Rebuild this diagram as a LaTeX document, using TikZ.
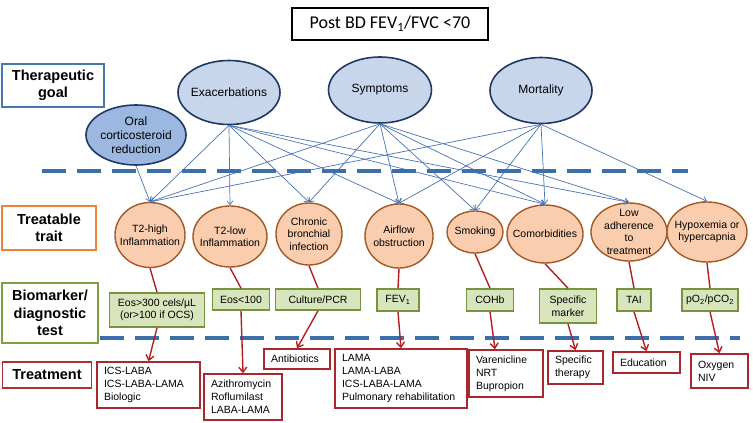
\documentclass[tikz,border=0pt]{standalone}
\usepackage{fontspec}
\setmainfont{Liberation Sans}
\newfontfamily\titlefont{Carlito}
\usetikzlibrary{shapes.geometric, arrows.meta}

\definecolor{goalfill}{RGB}{200,214,236}
\definecolor{oralfill}{RGB}{157,184,224}
\definecolor{goaldraw}{RGB}{32,56,100}
\definecolor{traitfill}{RGB}{250,205,175}
\definecolor{traitdraw}{RGB}{160,90,40}
\definecolor{markerfill}{RGB}{216,228,188}
\definecolor{markerdraw}{RGB}{119,147,60}
\definecolor{treatred}{RGB}{170,40,45}
\definecolor{linkred}{RGB}{180,30,35}
\definecolor{arrowblue}{RGB}{70,115,180}
\definecolor{dashblue}{RGB}{60,110,170}
\definecolor{labblue}{RGB}{70,120,180}
\definecolor{laborange}{RGB}{240,130,60}
\definecolor{labgreen}{RGB}{125,160,65}
\definecolor{labred}{RGB}{180,45,50}

\tikzset{
  goal/.style={ellipse, draw=goaldraw, line width=1.6pt, fill=goalfill,
    inner sep=-6pt, align=center, font=\fontsize{12}{14}\selectfont},
  trait/.style={ellipse, draw=traitdraw, line width=1.4pt, fill=traitfill,
    inner sep=-10pt, align=center, font=\fontsize{10.5}{12.5}\selectfont},
  marker/.style={rectangle, draw=markerdraw, line width=1.6pt, fill=markerfill,
    inner sep=0pt, align=center, font=\fontsize{10.5}{12.5}\selectfont},
  treat/.style={rectangle, draw=treatred, line width=1.5pt, fill=white,
    align=left, inner xsep=7pt, inner ysep=2pt, font=\fontsize{10.5}{13}\selectfont},
  rowlabel/.style={rectangle, line width=1.6pt, fill=white, inner sep=0pt,
    align=center, font=\bfseries\fontsize{14.5}{17.5}\selectfont},
  titlebox/.style={rectangle, draw=black, line width=1.8pt, inner sep=0pt,
    font=\titlefont\fontsize{18}{20}\selectfont},
  goalarrow/.style={draw=arrowblue, line width=0.7pt, -{Straight Barb[length=4pt,width=6pt]}},
  traitlink/.style={draw=linkred, line width=1.4pt},
  treatarrow/.style={traitlink, -{Straight Barb[length=5pt,width=8pt]}},
  divider/.style={draw=dashblue, line width=3.5pt, dash pattern=on 24pt off 11pt},
}

\begin{document}
\begin{tikzpicture}[x=1pt,y=-1pt]
\useasboundingbox (0,0) rectangle (753,423);

% title
\node[titlebox, minimum width=196pt, minimum height=32pt] (title) at (390,24) {Post BD FEV\textsubscript{1}/FVC <70};

% row labels
\node[rowlabel, draw=labblue, minimum width=102pt, minimum height=43pt] (lgoal) at (53,85.5) {Therapeutic\\goal};
\node[rowlabel, draw=laborange, minimum width=94pt, minimum height=44pt] (ltrait) at (49,228) {Treatable\\trait};
\node[rowlabel, draw=labgreen, minimum width=96pt, minimum height=60pt] (lmarker) at (50,313) {Biomarker/\\diagnostic\\test};
\node[rowlabel, draw=labred, minimum width=89pt, minimum height=26pt] (ltreat) at (47,375) {Treatment};

% therapeutic goals
\node[goal, fill=oralfill, minimum width=100pt, minimum height=60pt] (oral) at (136,135) {Oral\\corticosteroid\\reduction};
\node[goal, minimum width=102pt, minimum height=64pt] (exac) at (229,92.5) {Exacerbations};
\node[goal, minimum width=103pt, minimum height=66pt] (symp) at (380,90) {Symptoms};
\node[goal, minimum width=102pt, minimum height=66pt] (mort) at (541,90.5) {Mortality};

% treatable traits
\node[trait, minimum width=70pt, minimum height=65pt] (t2high) at (150,235) {T2-high\\Inflammation};
\node[trait, minimum width=74pt, minimum height=61pt] (t2low) at (230,236.5) {T2-low\\Inflammation};
\node[trait, minimum width=66pt, minimum height=62pt] (chronic) at (309,234) {Chronic\\bronchial\\infection};
\node[trait, minimum width=68pt, minimum height=64pt] (airflow) at (399,236) {Airflow\\obstruction};
\node[trait, minimum width=56pt, minimum height=42pt] (smoking) at (475,232) {Smoking};
\node[trait, minimum width=76pt, minimum height=58pt] (comorb) at (545,234) {Comorbidities};
\node[trait, minimum width=76pt, minimum height=58pt] (lowadh) at (629,232) {Low\\adherence\\to\\treatment};
\node[trait, minimum width=80pt, minimum height=60pt] (hypox) at (707,232) {Hypoxemia or\\hypercapnia};

% biomarkers
\node[marker, minimum width=95pt, minimum height=34pt] (eoshigh) at (157,310) {Eos>300 cels/µL\\(or>100 if OCS)};
\node[marker, minimum width=57pt, minimum height=21pt] (eoslow) at (241,299.5) {Eos<100};
\node[marker, minimum width=85pt, minimum height=21pt] (culture) at (318,299.5) {Culture/PCR};
\node[marker, minimum width=42pt, minimum height=22pt] (fev) at (398,300) {FEV\textsubscript{1}};
\node[marker, minimum width=47pt, minimum height=22pt] (cohb) at (490,300) {COHb};
\node[marker, minimum width=57pt, minimum height=34pt] (specmark) at (568,306) {Specific\\marker};
\node[marker, minimum width=34pt, minimum height=22pt] (tai) at (634,300) {TAI};
\node[marker, minimum width=56pt, minimum height=22pt] (gases) at (710,300) {pO\textsubscript{2}/pCO\textsubscript{2}};

% treatments
\node[treat, text width=89pt, minimum height=46pt] (ics) at (148.5,385) {ICS-LABA\\ICS-LABA-LAMA\\Biologic};
\node[treat, text width=64pt, minimum height=46pt] (azi) at (243,397) {Azithromycin\\Roflumilast\\LABA-LAMA};
\node[treat, text width=52pt, minimum height=20pt] (abx) at (297,359) {Antibiotics};
\node[treat, text width=118pt, minimum height=59pt] (lama) at (401,378.5) {LAMA\\LAMA-LABA\\ICS-LABA-LAMA\\Pulmonary rehabilitation};
\node[treat, text width=60pt, minimum height=47pt] (varen) at (506,373.5) {Varenicline\\NRT\\Bupropion};
\node[treat, text width=41pt, minimum height=33pt] (specther) at (575.5,367.5) {Specific\\therapy};
\node[treat, text width=53pt, minimum height=21pt] (edu) at (646.5,362.5) {Education};
\node[treat, text width=43pt, minimum height=34pt] (oxy) at (719.5,371) {Oxygen\\NIV};

% dividers
\coordinate (div1l) at (42,171);
\coordinate (div1r) at (688,171);
\coordinate (div2l) at (100,338);
\coordinate (div2r) at (740,338);
\draw[divider] (div1l) -- (div1r);
\draw[divider] (div2l) -- (div2r);

% goals to traits
\draw[goalarrow] (oral.south) -- (t2high.north);
\draw[goalarrow] (exac.south) -- (t2high.north);
\draw[goalarrow] (exac.south) -- (t2low.north);
\draw[goalarrow] (exac.south) -- (chronic.north);
\draw[goalarrow] (exac.south) -- (airflow.north);
\draw[goalarrow] (exac.south) -- (comorb.north);
\draw[goalarrow] (exac.south) -- (lowadh.north);
\draw[goalarrow] (symp.south) -- (t2high.north);
\draw[goalarrow] (symp.south) -- (chronic.north);
\draw[goalarrow] (symp.south) -- (airflow.north);
\draw[goalarrow] (symp.south) -- (smoking.north);
\draw[goalarrow] (symp.south) -- (comorb.north);
\draw[goalarrow] (symp.south) -- (lowadh.north);
\draw[goalarrow] (mort.south) -- (t2high.north);
\draw[goalarrow] (mort.south) -- (airflow.north);
\draw[goalarrow] (mort.south) -- (smoking.north);
\draw[goalarrow] (mort.south) -- (comorb.north);
\draw[goalarrow] (mort.south) -- (hypox.north);

% traits to biomarkers
\draw[traitlink] (t2high.south) -- (eoshigh.north);
\draw[traitlink] (t2low.south) -- (eoslow.north);
\draw[traitlink] (chronic.south) -- (culture.north);
\draw[traitlink] (airflow.south) -- (fev.north);
\draw[traitlink] (smoking.south) -- (cohb.north);
\draw[traitlink] (comorb.south) -- (specmark.north);
\draw[traitlink] (lowadh.south) -- (tai.north);
\draw[traitlink] (hypox.south) -- (gases.north);

% biomarkers to treatments
\draw[treatarrow] (eoshigh.south) -- (ics.north);
\draw[treatarrow] (eoslow.south) -- (azi.north);
\draw[treatarrow] (culture.south) -- (abx.north);
\draw[treatarrow] (fev.south) -- (lama.north);
\draw[treatarrow] (cohb.south) -- ([xshift=-11pt]varen.north);
\draw[treatarrow] (specmark.south) -- (specther.north);
\draw[treatarrow] (tai.south) -- (edu.north);
\draw[treatarrow] (gases.south) -- (oxy.north);
\end{tikzpicture}
\end{document}
